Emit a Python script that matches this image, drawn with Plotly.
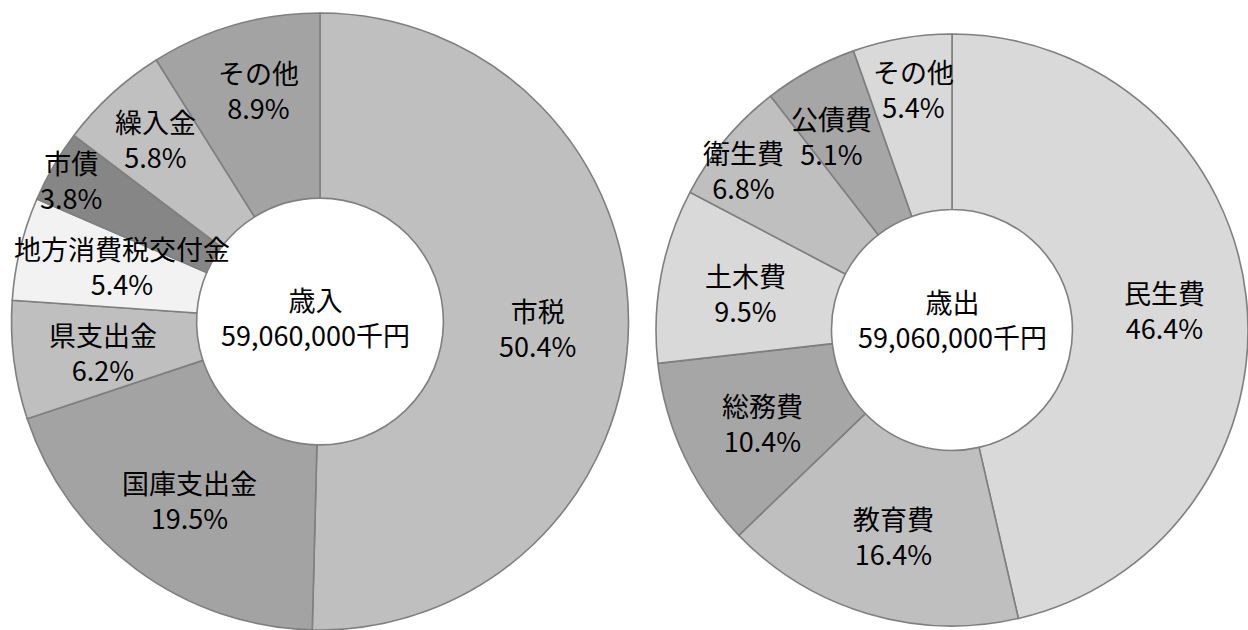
import plotly.graph_objects as go

# Revenue (歳入) breakdown, percent of total
revenue_labels = ["市税", "国庫支出金", "県支出金", "地方消費税交付金", "市債", "繰入金", "その他"]
revenue_values = [50.4, 19.5, 6.2, 5.4, 3.8, 5.8, 8.9]

# Expenditure (歳出) breakdown, percent of total
expense_labels = ["民生費", "教育費", "総務費", "土木費", "衛生費", "公債費", "その他"]
expense_values = [46.4, 16.4, 10.4, 9.5, 6.8, 5.1, 5.4]

# Budget totals in thousand yen
revenue_total = 59060000
expense_total = 59060000

# Slice fills
revenue_colors = ["#bfbfbf", "#a3a3a3", "#bfbfbf", "#f2f2f2", "#868686", "#c0c0c0", "#a3a3a3"]
expense_colors = ["#d9d9d9", "#bfbfbf", "#a6a6a6", "#d9d9d9", "#bfbfbf", "#a6a6a6", "#d9d9d9"]

W, H = 1248, 630
FONT = "Noto Sans CJK JP"
FS = 27

# Label anchor points in pixels (centre of the two-line block)
revenue_label_pos = [
    (537, 328),
    (190, 500),
    (103, 352),
    (122, 266),
    (71, 180),
    (155, 139),
    (258, 90),
]
expense_label_pos = [
    (1164, 310),
    (893, 536),
    (762, 423),
    (745, 293),
    (743, 170),
    (831, 136),
    (913, 89),
]
revenue_center_pos = (315, 317)
expense_center_pos = (953, 319)


def px(x):
    return x / W


def py(y):
    return 1 - y / H


fig = go.Figure()

fig.add_trace(go.Pie(
    labels=revenue_labels,
    values=revenue_values,
    sort=False,
    direction="clockwise",
    rotation=0,
    hole=0.40,
    textinfo="none",
    hoverinfo="skip",
    marker=dict(colors=revenue_colors, line=dict(color="#7f7f7f", width=1.6)),
    domain=dict(x=[px(11.5), px(628.5)], y=[py(630), py(13)]),
    showlegend=False,
))

fig.add_trace(go.Pie(
    labels=expense_labels,
    values=expense_values,
    sort=False,
    direction="clockwise",
    rotation=0,
    hole=0.407,
    textinfo="none",
    hoverinfo="skip",
    marker=dict(colors=expense_colors, line=dict(color="#7f7f7f", width=1.6)),
    domain=dict(x=[px(656), px(1248)], y=[py(628), py(32)]),
    showlegend=False,
))

annotations = []


def add_text(x, y, text):
    annotations.append(dict(
        x=px(x), y=py(y), xref="paper", yref="paper",
        text=text, showarrow=False, xanchor="center", yanchor="middle",
        align="center",
        font=dict(family=FONT, size=FS, color="#000000"),
    ))


for labels, values, positions in (
    (revenue_labels, revenue_values, revenue_label_pos),
    (expense_labels, expense_values, expense_label_pos),
):
    for name, val, (x, y) in zip(labels, values, positions):
        add_text(x, y, f"{name}<br>{val:.1f}%")

add_text(*revenue_center_pos, f"歳入<br>{revenue_total:,}千円")
add_text(*expense_center_pos, f"歳出<br>{expense_total:,}千円")

fig.update_layout(
    width=W,
    height=H,
    margin=dict(l=0, r=0, t=0, b=0),
    paper_bgcolor="#ffffff",
    plot_bgcolor="#ffffff",
    annotations=annotations,
    font=dict(family=FONT),
)

fig.write_html("out.html")
